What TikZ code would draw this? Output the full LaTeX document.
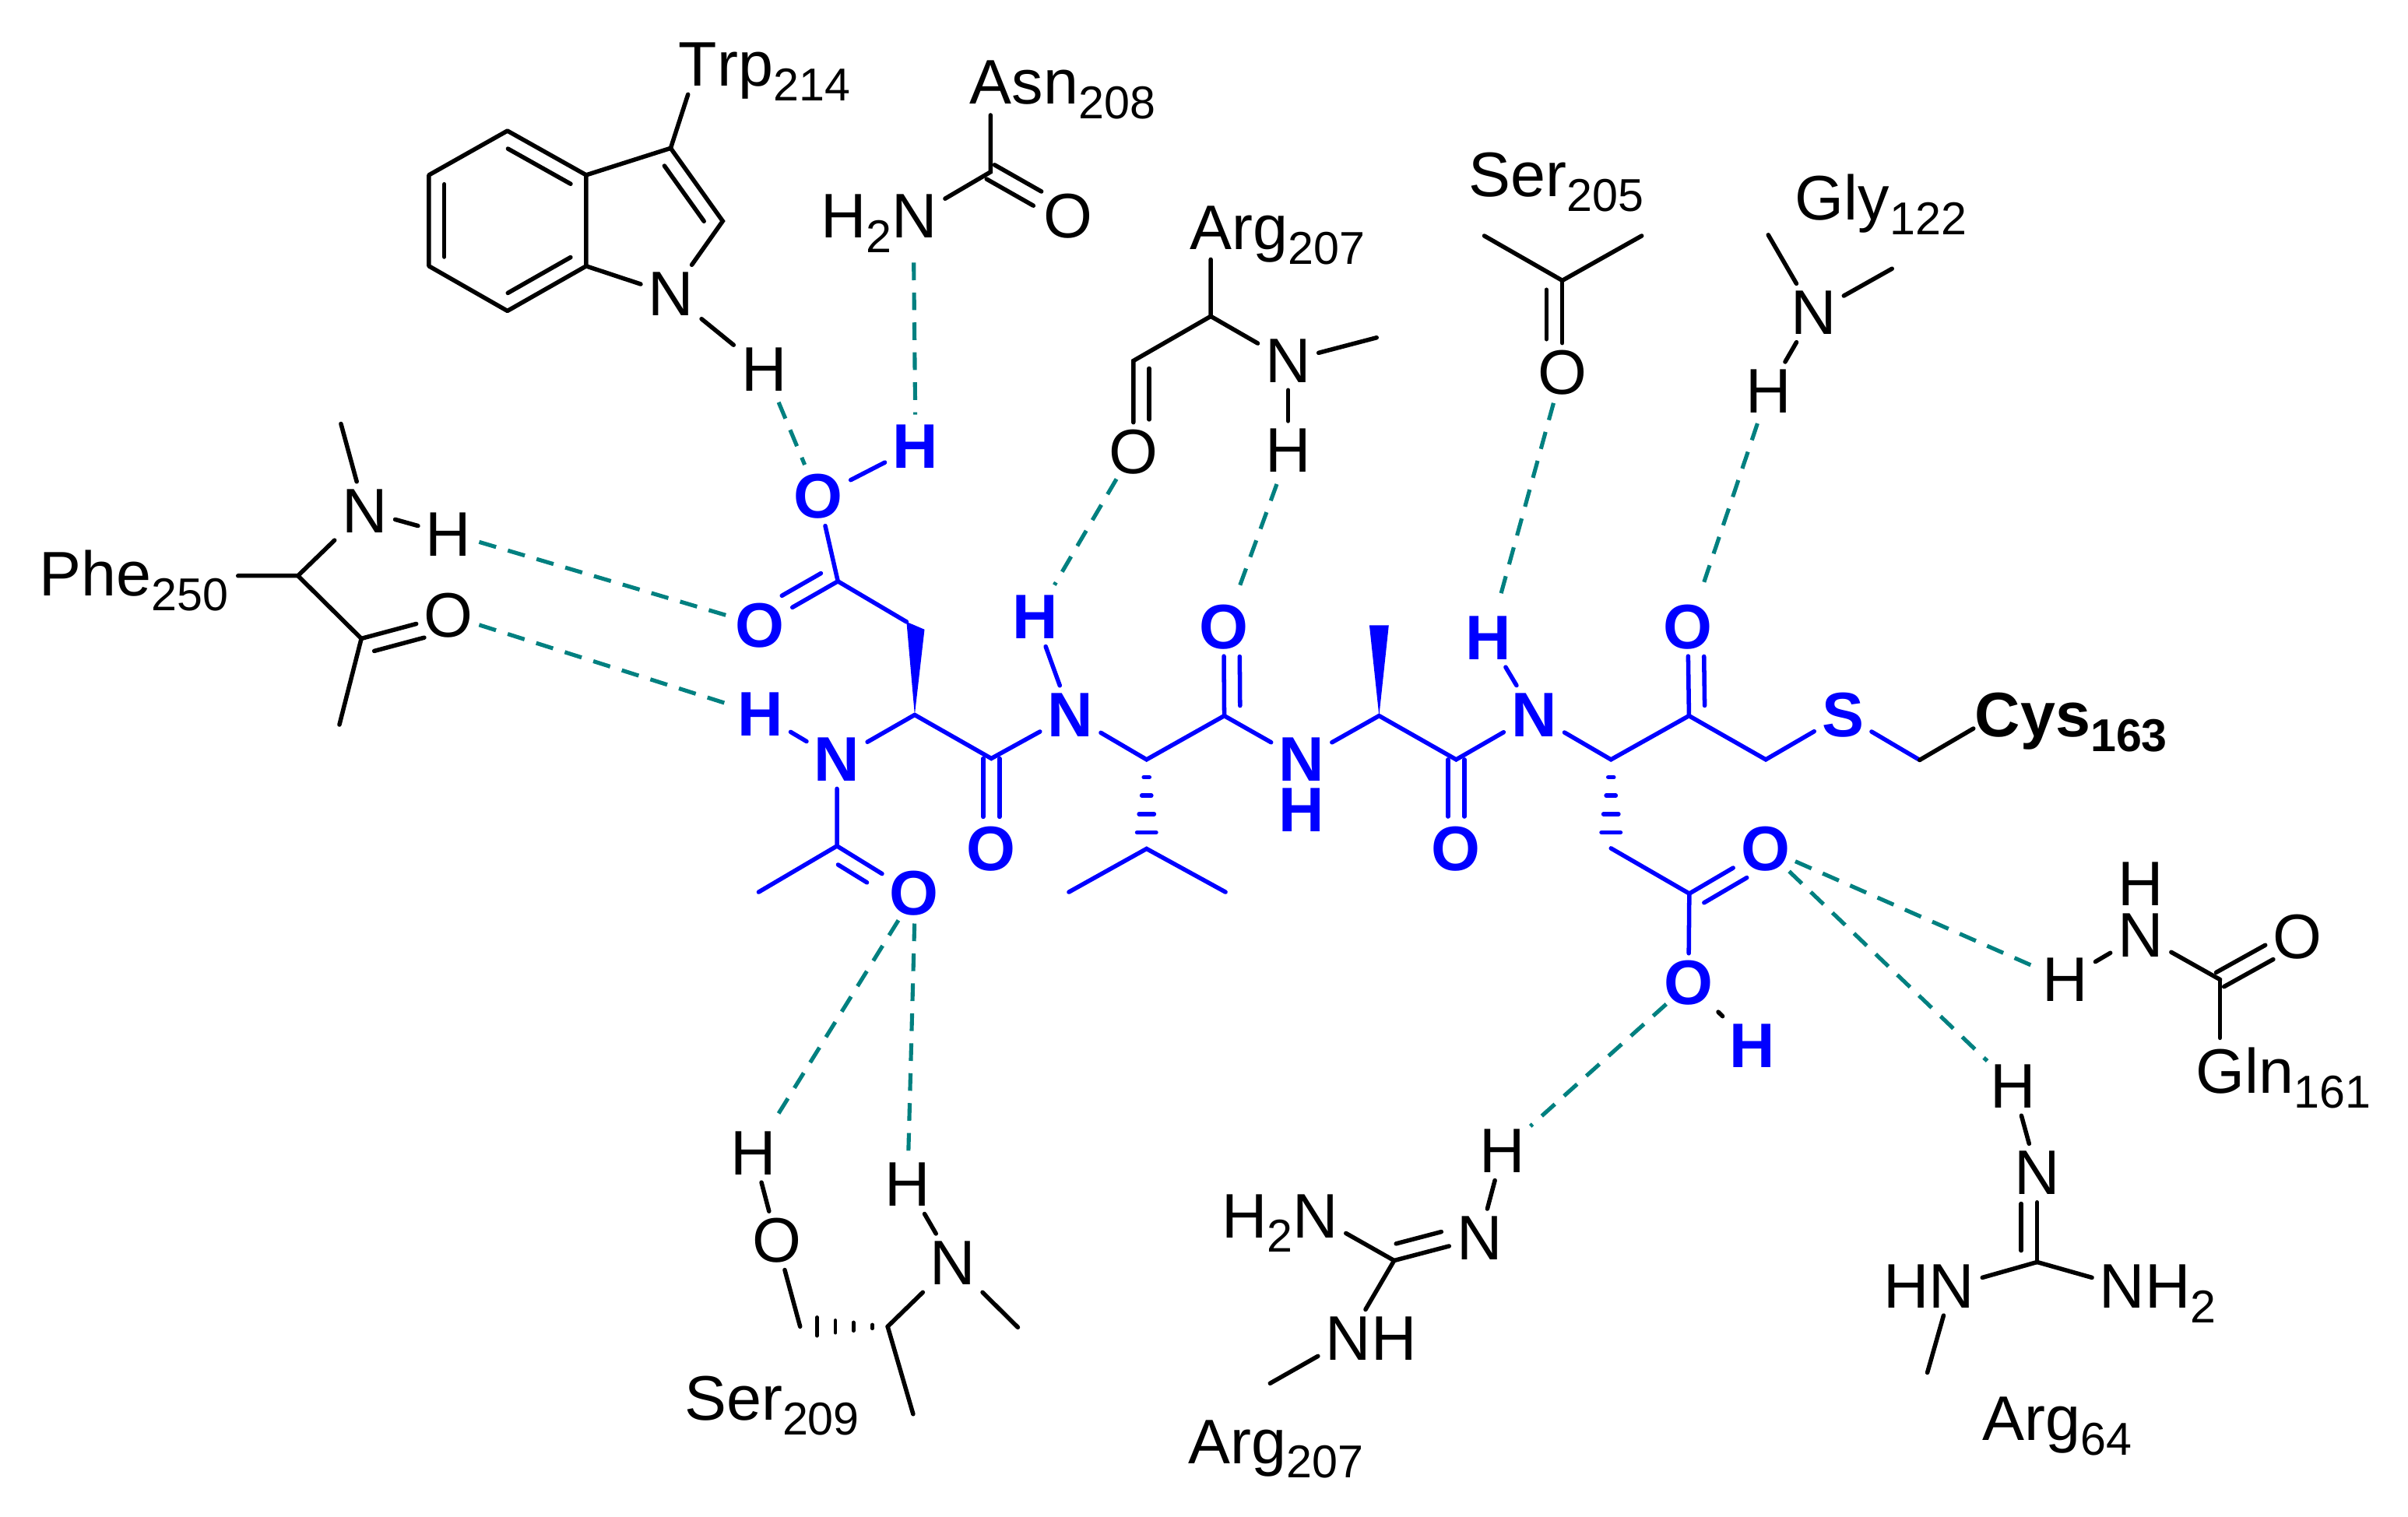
\documentclass[tikz,border=0pt]{standalone}
\usepackage{fontspec}
\setmainfont{Liberation Sans}[Kerning=Off]
\usetikzlibrary{calc}
\definecolor{hbteal}{RGB}{0,128,128}
\definecolor{pepblue}{RGB}{0,0,255}
\newcommand{\sbs}[1]{\raisebox{-9.5pt}{\fontsize{30}{30}\selectfont #1}}
% inner line of a double bond: style, from, to, offset, shorten start, shorten end
\newcommand{\dbin}[6]{\draw[#1,shorten <=#5,shorten >=#6] ($(#2)!#4!90:(#3)$) -- ($(#3)!#4!-90:(#2)$);}
% symmetric double bond
\newcommand{\dbsym}[5]{\draw[#1,shorten >=#5] ($(#2)!#4!90:(#3)$) -- ($(#3)!#4!-90:(#2)$);\draw[#1,shorten >=#5] ($(#2)!#4!-90:(#3)$) -- ($(#3)!#4!90:(#2)$);}
\newcommand{\hashdown}[1]{%
  \draw[bbond] ($(#1)+(-1.8,11.5)$) -- ($(#1)+(1.8,11.5)$);
  \draw[bbond] ($(#1)+(-3.1,23.5)$) -- ($(#1)+(3.1,23.5)$);
  \draw[bbond] ($(#1)+(-4.9,35.5)$) -- ($(#1)+(4.9,35.5)$);
  \draw[bbond] ($(#1)+(-6.2,47.5)$) -- ($(#1)+(6.2,47.5)$);}
\tikzset{
  atom/.style={inner sep=5pt,outer sep=0pt,text height=28.2pt,text depth=0pt,black,font=\fontsize{41}{45}\selectfont},
  batom/.style={atom,pepblue,font=\fontsize{41}{45}\selectfont\bfseries},
  lab/.style={atom,anchor=west,inner sep=0pt},
  bond/.style={black,line width=2.8pt,line cap=round},
  bbond/.style={pepblue,line width=2.8pt,line cap=round},
  hb/.style={hbteal,line width=2.6pt,dash pattern=on 11.5pt off 8pt}
}
\begin{document}
\begin{tikzpicture}[x=1pt,y=-1pt]
\useasboundingbox (0,0) rectangle (1568,988);
% ---- Trp214
\coordinate (t1) at (330.4,85.2);\coordinate (t2) at (381.7,114);\coordinate (t3) at (381.7,173.3);
\coordinate (t4) at (330.4,202.5);\coordinate (t5) at (279.3,173.3);\coordinate (t6) at (279.3,114);
\coordinate (t7) at (436.7,96.5);\coordinate (t8) at (470.6,144);
\node[atom] (tN) at (437,191.6) {N};
\node[atom] (tH) at (497.5,240.8) {H};
\node[lab] (tTrp) at (442,42) {Trp\sbs{214}};
\coordinate (tTe) at (448,61.5);
\draw[bond,line join=round] (t1)--(t2)--(t3)--(t4)--(t5)--(t6)--cycle;
\draw[bond] (t2)--(t7)--(t8)--(tN)--(t3);
\draw[bond] (t7)--(tTe);
\draw[bond] (tN)--(tH);
\dbin{bond}{t1}{t2}{-10pt}{6pt}{6pt}
\dbin{bond}{t3}{t4}{-10pt}{6pt}{6pt}
\dbin{bond}{t5}{t6}{-10pt}{6pt}{6pt}
\dbin{bond}{t7}{t8}{-10pt}{7pt}{7pt}
% ---- Asn208
\node[lab] (aAsn) at (631.6,53.5) {Asn\sbs{208}};
\coordinate (aC) at (645,112);\coordinate (aT) at (645,75);
\node[atom] (aN) at (595.6,141) {N};
\node[atom,anchor=east,inner sep=0pt] (aH) at (580.7,141) {H\sbs{2}};
\node[atom] (aO) at (695.5,140.7) {O};
\draw[bond] (aT)--(aC)--(aN);
\dbsym{bond}{aC}{aO}{5.3pt}{23pt}
% ---- Arg207 top
\node[lab] (gArg) at (775,148.5) {Arg\sbs{207}};
\coordinate (gT) at (788.4,169);\coordinate (gA) at (788.4,206);\coordinate (gC) at (738,235);\coordinate (gM) at (896.4,219.9);
\node[atom] (gO) at (738,294.2) {O};
\node[atom] (gN) at (838.8,235) {N};
\node[atom] (gH) at (838.8,293.3) {H};
\draw[bond] (gT)--(gA)--(gC)--(gO);
\draw[bond] (gA)--(gN)--(gM);
\draw[bond] (gN)--(gH);
\dbin{bond}{gC}{gO}{10.3pt}{5pt}{21pt}
% ---- Ser205
\node[lab] (sSer) at (956.5,113.8) {Ser\sbs{205}};
\coordinate (s1) at (966.5,153.6);\coordinate (s2) at (1017.3,182.7);\coordinate (s3) at (1069,153.6);
\node[atom] (sO) at (1017.3,242.5) {O};
\draw[bond] (s1)--(s2)--(s3);
\draw[bond] (s2)--(sO);
\dbin{bond}{s2}{sO}{-10.3pt}{6pt}{21.6pt}
% ---- Gly122
\node[lab] (lGly) at (1169,129) {Gly\sbs{122}};
\node[atom] (lN) at (1180.8,203.8) {N};
\node[atom] (lH) at (1151.4,254.8) {H};
\coordinate (l1) at (1151.4,153);\coordinate (l2) at (1232,175);
\draw[bond] (l1)--(lN)--(l2);
\draw[bond] (lN)--(lH);
% ---- Phe250
\node[lab] (pPhe) at (25.5,374) {Phe\sbs{250}};
\coordinate (pL) at (155,375);\coordinate (pA) at (194,375);\coordinate (pC) at (235.3,415.9);\coordinate (pM) at (221,472);\coordinate (pT) at (222,276);
\node[atom] (pN) at (237.5,332.8) {N};
\node[atom] (pH) at (292,348) {H};
\node[atom] (pO) at (292,400.7) {O};
\draw[bond] (pL)--(pA)--(pN);
\draw[bond] (pT)--(pN)--(pH);
\draw[bond] (pA)--(pC)--(pM);
\draw[bond] (pC)--(pO);
\dbin{bond}{pC}{pO}{-10pt}{6pt}{19pt}
% ---- Ser209
\node[atom] (rH) at (490.8,751) {H};
\node[atom] (rO) at (505.8,808) {O};
\node[atom] (rN) at (620.5,822.6) {N};
\node[atom] (rHn) at (591,771.5) {H};
\node[lab] (rSer) at (445.7,911) {Ser\sbs{209}};
\coordinate (rC1) at (521,864);\coordinate (rC2) at (578,864);\coordinate (rM1) at (662.8,864.5);\coordinate (rM2) at (594.6,921);
\draw[bond] (rH)--(rO)--(rC1);
\draw[bond] (rC2)--(rN)--(rM1);
\draw[bond] (rN)--(rHn);
\draw[bond] (rC2)--(rM2);
\foreach \dx/\h in {10/1.2,22.3/2.7,34/4,46/6}{
  \draw[bond,line width=2.4pt] ($(rC2)+(-\dx,-\h)$) -- ($(rC2)+(-\dx,\h)$);}
% ---- Arg207 bottom
\node[atom] (bH) at (978.5,749.7) {H};
\node[atom] (bN) at (963.4,806.4) {N};
\coordinate (bC) at (907.8,821);
\node[atom] (bN2) at (856.6,792) {N};
\node[atom,anchor=east,inner sep=0pt] (bH2) at (841.8,792) {H\sbs{2}};
\node[atom] (bN3) at (878,872) {N};
\node[atom] (bH3) at (907.6,872) {H};
\coordinate (bM) at (827,901);
\node[lab] (bArg) at (774,939) {Arg\sbs{207}};
\draw[bond] (bH)--(bN);
\draw[bond] (bC)--(bN);
\dbin{bond}{bC}{bN}{10.3pt}{4pt}{23pt}
\draw[bond] (bC)--(bN2);
\draw[bond] (bC)--(bN3)--(bM);
% ---- Arg64
\node[atom] (cH) at (1311,707.5) {H};
\node[atom] (cN) at (1326.5,764) {N};
\coordinate (cC) at (1326.5,822);
\node[atom] (cN2) at (1271,837.7) {N};
\node[atom,anchor=east,inner sep=0pt] (cH2) at (1256.2,837.7) {H};
\node[atom] (cN3) at (1382,837.7) {N};
\node[atom,anchor=west,inner sep=0pt] (cH3) at (1396.8,837.7) {H\sbs{2}};
\coordinate (cM) at (1255,894);
\node[lab] (cArg) at (1291,924) {Arg\sbs{64}};
\draw[bond] (cH)--(cN);
\draw[bond] (cC)--(cN);
\dbin{bond}{cC}{cN}{10.4pt}{7.5pt}{20pt}
\draw[bond] (cC)--(cN2)--(cM);
\draw[bond] (cC)--(cN3);
% ---- Gln161
\node[atom] (qH1) at (1394,575.5) {H};
\node[atom] (qN) at (1394,609) {N};
\node[atom] (qH2) at (1344.6,638) {H};
\node[atom] (qO) at (1496,610) {O};
\coordinate (qC) at (1445.6,638);\coordinate (qB) at (1445.6,676);
\node[lab] (qGln) at (1430,698) {Gln\sbs{161}};
\draw[bond] (qN)--(qH2);
\draw[bond] (qN)--(qC);
\dbsym{bond}{qC}{qO}{5.3pt}{21pt}
\draw[bond] (qC)--(qB);
% ---- peptide (blue)
\node[batom] (O1) at (533,323.4) {O};
\node[batom] (H1) at (596,291) {H};
\coordinate (C1) at (545.6,378.6);
\node[batom] (O2) at (495,407.6) {O};
\coordinate (Cb1) at (596,407.5);\coordinate (Ca1) at (595.6,465.6);
\node[batom] (Hn0) at (495,465) {H};
\node[batom] (N0) at (545,494.6) {N};
\coordinate (Ac) at (545,551);\coordinate (AcM) at (494,581);
\node[batom] (AcO) at (595.3,582) {O};
\coordinate (C2) at (645.5,494);
\node[batom] (O3) at (645.5,553) {O};
\node[batom] (N2) at (697,465.6) {N};
\node[batom] (H2) at (674,402) {H};
\coordinate (Ca2) at (746.6,494.7);\coordinate (Cg) at (746.6,552.8);\coordinate (Cg1) at (696,581);\coordinate (Cg2) at (798,581);
\coordinate (C3) at (797.2,466.2);
\node[batom] (O4) at (796.8,408.3) {O};
\node[batom] (N3) at (847.5,494.7) {N};
\node[batom] (H3) at (847.5,527.7) {H};
\coordinate (Ca3) at (898,466.2);\coordinate (Me3) at (898,407.3);
\coordinate (C4) at (948.2,494.7);
\node[batom] (O5) at (948.2,552.8) {O};
\node[batom] (N4) at (998.9,465.5) {N};
\node[batom] (H4) at (969,415.4) {H};
\coordinate (Ca4) at (1049,494.7);
\coordinate (C5) at (1099.8,466.2);
\node[batom] (O6) at (1099,408.3) {O};
\coordinate (C6) at (1149.8,494.7);
\node[batom] (S) at (1200,465.5) {S};
\coordinate (C7) at (1250,495);\coordinate (C7e) at (1285,474.5);
\node[batom,black,anchor=west,inner sep=0pt] (Cys) at (1286,465.6) {Cys\sbs{163}};
\coordinate (Cb4) at (1049,552.5);\coordinate (C8) at (1100,582);
\node[batom] (O7) at (1149.5,553) {O};
\node[batom] (O8) at (1099.5,640) {O};
\node[batom] (H8) at (1141,681) {H};
\draw[bbond] (O1)--(H1);
\draw[bbond] (O1)--(C1)--(O2);
\dbin{bbond}{C1}{O2}{-10pt}{7pt}{22pt}
\draw[bbond] (C1)--(590.3,405);
\fill[pepblue] (Ca1) -- (590.3,405) -- (602,410) -- cycle;
\draw[bbond] (Ca1)--(N0)--(Hn0);
\draw[bbond] (N0)--(Ac)--(AcM);
\draw[bbond] (Ac)--(AcO);
\dbin{bbond}{Ac}{AcO}{-10pt}{7pt}{30pt}
\draw[bbond] (Ca1)--(C2)--(N2)--(Ca2)--(C3);
\dbsym{bbond}{C2}{O3}{5.3pt}{21pt}
\draw[bbond] (N2)--(H2);
\hashdown{Ca2}
\draw[bbond] (Cg1)--(Cg)--(Cg2);
\draw[bbond] (C3)--(O4);
\dbin{bbond}{C3}{O4}{-10.3pt}{6.5pt}{19.4pt}
\draw[bbond] (C3)--(N3)--(Ca3)--(C4)--(N4)--(Ca4)--(C5)--(C6)--(S)--(C7);
\fill[pepblue] (Ca3) -- ($(Me3)+(-6.3,0)$) -- ($(Me3)+(6.3,0)$) -- cycle;
\dbsym{bbond}{C4}{O5}{5.3pt}{21pt}
\draw[bbond] (N4)--(H4);
\draw[bbond] (C5)--(O6);
\dbin{bbond}{C5}{O6}{-10.3pt}{6.5pt}{19.4pt}
\hashdown{Ca4}
\draw[bbond] (Cb4)--(C8)--(O7);
\dbin{bbond}{C8}{O7}{-10pt}{5.3pt}{19.8pt}
\draw[bbond] (C8)--(O8);
\draw[bond] (O8)--(H8);
\draw[bond] (C7)--(C7e);
% ---- hydrogen bonds
\coordinate (e1a) at (507,262);\coordinate (e1b) at (524,302.7);
\draw[hb] (e1a)--(e1b);
\coordinate (e2a) at (595,171);\coordinate (e2b) at (596,270);
\draw[hb] (e2a)--(e2b);
\coordinate (e3a) at (312,353);\coordinate (e3b) at (475.5,401.5);
\draw[hb] (e3a)--(e3b);
\coordinate (e4a) at (312,407);\coordinate (e4b) at (475.5,459);
\draw[hb] (e4a)--(e4b);
\coordinate (e5a) at (727,312);\coordinate (e5b) at (686.6,381);
\draw[hb] (e5a)--(e5b);
\coordinate (e6a) at (831.4,315.3);\coordinate (e6b) at (805.3,387);
\draw[hb] (e6a)--(e6b);
\coordinate (e7a) at (1011.6,262.5);\coordinate (e7b) at (975.7,392.8);
\draw[hb] (e7a)--(e7b);
\coordinate (e8a) at (1144.4,275.8);\coordinate (e8b) at (1107.2,386.2);
\draw[hb] (e8a)--(e8b);
\coordinate (e9a) at (1169,561);\coordinate (e9b) at (1324.5,629.5);
\draw[hb] (e9a)--(e9b);
\coordinate (e10a) at (1165,567.5);\coordinate (e10b) at (1294,691);
\draw[hb] (e10a)--(e10b);
\coordinate (e11a) at (1085,654);\coordinate (e11b) at (996.5,733.5);
\draw[hb] (e11a)--(e11b);
\coordinate (e12a) at (585,599.4);\coordinate (e12b) at (504,730);
\draw[hb] (e12a)--(e12b);
\coordinate (e13a) at (595.5,601.5);\coordinate (e13b) at (591.5,751);
\draw[hb] (e13a)--(e13b);
\end{tikzpicture}
\end{document}
